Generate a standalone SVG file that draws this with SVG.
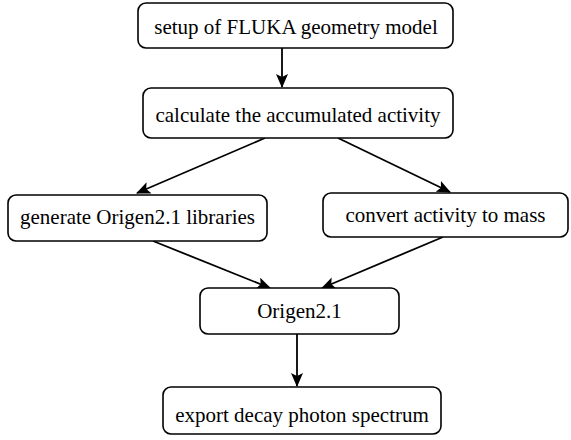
<svg xmlns="http://www.w3.org/2000/svg" width="571" height="440" viewBox="0 0 571 440">
<style>
.box{fill:#fff;stroke:#000;stroke-width:1.6}
.lbl{font-family:'Liberation Serif','Times New Roman','DejaVu Serif',serif;font-size:21px;fill:#000;text-anchor:middle}
.edge{stroke:#000;stroke-width:1.8;fill:none}
</style>
<defs>
<marker id="ah" viewBox="0 0 14 12" markerWidth="14" markerHeight="12" refX="13" refY="6" orient="auto" markerUnits="userSpaceOnUse">
<path d="M0,0 L14,6 L0,12 L3,6 Z" fill="#000"/>
</marker>
</defs>
<rect width="571" height="440" fill="#fff"/>
<g id="connectors">
<line class="edge" x1="282" y1="48" x2="282" y2="87" marker-end="url(#ah)"/>
<line class="edge" x1="265" y1="138" x2="137" y2="193" marker-end="url(#ah)"/>
<line class="edge" x1="338" y1="138" x2="450" y2="192" marker-end="url(#ah)"/>
<line class="edge" x1="153" y1="241" x2="270" y2="288" marker-end="url(#ah)"/>
<line class="edge" x1="443" y1="237" x2="322" y2="288" marker-end="url(#ah)"/>
<line class="edge" x1="297" y1="334" x2="297" y2="386" marker-end="url(#ah)"/>
</g>
<g id="n1"><rect class="box" x="138" y="3" width="315" height="45" rx="8"/><text class="lbl" font-family="Liberation Serif, serif" x="296" y="34">setup of FLUKA geometry model</text></g>
<g id="n2"><rect class="box" x="143" y="88" width="310" height="50" rx="8"/><text class="lbl" x="298" y="122">calculate the accumulated activity</text></g>
<g id="n3"><rect class="box" x="8" y="195" width="259" height="46" rx="8"/><text class="lbl" x="137.5" y="224">generate Origen2.1 libraries</text></g>
<g id="n4"><rect class="box" x="323" y="193" width="245" height="44" rx="8"/><text class="lbl" x="445.5" y="222">convert activity to mass</text></g>
<g id="n5"><rect class="box" x="200" y="288" width="199" height="46" rx="8"/><text class="lbl" x="299.5" y="318">Origen2.1</text></g>
<g id="n6"><rect class="box" x="163" y="387" width="278" height="47" rx="8"/><text class="lbl" x="302" y="422">export decay photon spectrum</text></g>
</svg>
